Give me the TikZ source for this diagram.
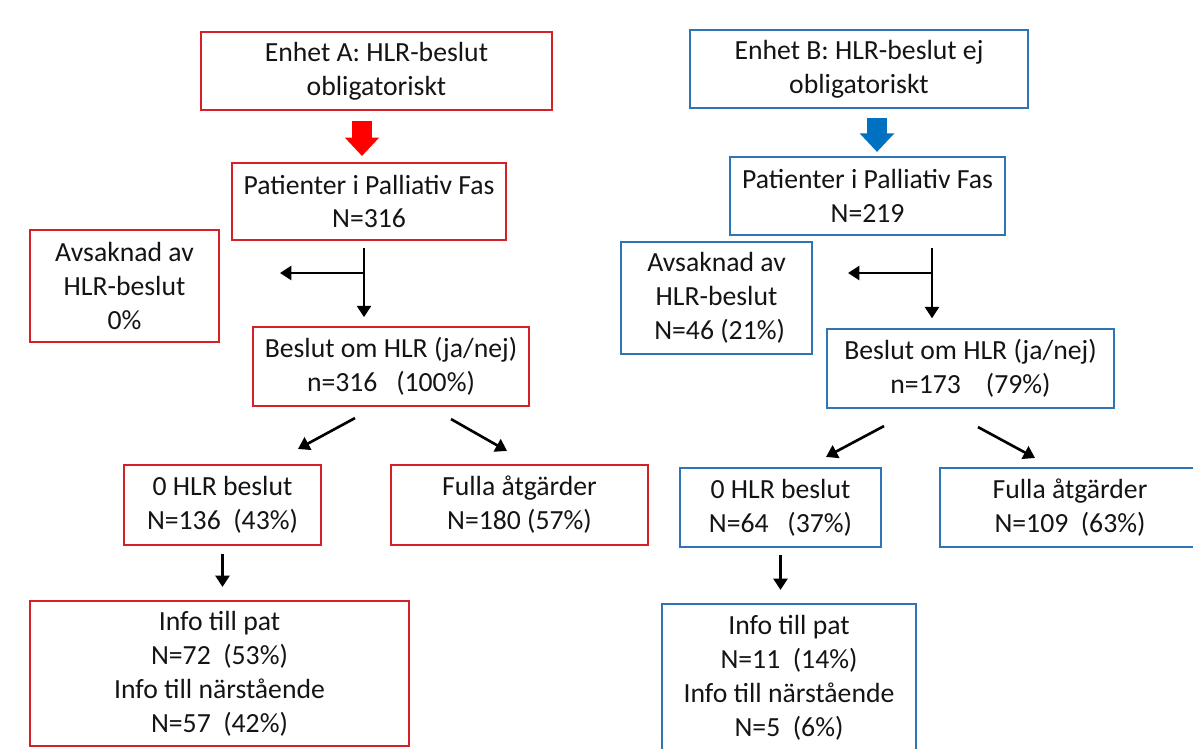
\documentclass[tikz,border=0pt]{standalone}
\usepackage{fontspec}
\setmainfont{Carlito}
\usetikzlibrary{arrows.meta,calc}
\definecolor{redcol}{RGB}{214,32,40}
\definecolor{bluecol}{RGB}{46,117,182}
\definecolor{redarrow}{RGB}{255,0,0}
\definecolor{bluearrow}{RGB}{0,112,192}
\definecolor{txtcol}{RGB}{20,20,20}

\tikzset{
  box/.style 2 args={inner sep=0pt, align=center, line width=1.2pt,
    minimum width=#1*0.02cm, minimum height=#2*0.02cm},
  redbox/.style={draw=redcol},
  bluebox/.style={draw=bluecol},
  arr/.style={line width=1.5pt, -{Triangle[width=8pt,length=6.5pt]}},
  bigarr/.style={line width=11pt, #1, -{Triangle[width=19pt,length=10.5pt]}}
}

\begin{document}
\begin{tikzpicture}[x=0.02cm, y=-0.02cm, text=txtcol,
    every node/.style={font=\fontsize{15.76}{19.3}\selectfont}]
\useasboundingbox (0,0) rectangle (1193,748);

% Enhet A
\node[redbox, box={351}{78}] (A1) at (376.5,71) {Enhet A: HLR-beslut\\obligatoriskt};
\node[redbox, box={274}{77}] (A2) at (369,201.5) {Patienter i Palliativ Fas\\N=316};
\node[redbox, box={189}{112}] (A3) at (124.5,286) {Avsaknad av\\HLR-beslut\\0\%};
\node[redbox, box={276}{79}] (A4) at (391,366.5) {Beslut om HLR (ja/nej)\\n=316~~ (100\%)};
\node[redbox, box={197}{80}] (A5) at (222.5,505) {0 HLR beslut\\N=136~ (43\%)};
\node[redbox, box={257}{80}] (A6) at (519.5,505) {Fulla åtgärder\\N=180 (57\%)};
\node[redbox, box={379}{145}] (A7) at (219.5,673.5) {Info till pat\\N=72~ (53\%)\\Info till närstående\\N=57~ (42\%)};

% Enhet B
\node[bluebox, box={338}{78}] (B1) at (859,69) {Enhet B: HLR-beslut ej\\obligatoriskt};
\node[bluebox, box={275}{78}] (B2) at (867.5,196) {Patienter i Palliativ Fas\\N=219};
\node[bluebox, box={191}{112}] (B3) at (716.5,298) {Avsaknad av\\HLR-beslut\\~N=46 (21\%)};
\node[bluebox, box={287}{79}] (B4) at (970.5,368.5) {Beslut om HLR (ja/nej)\\n=173~~~ (79\%)};
\node[bluebox, box={201}{79}] (B5) at (780.5,507.5) {0 HLR beslut\\N=64~~ (37\%)};
\node[bluebox, box={260}{79}] (B6) at (1070,507.5) {Fulla åtgärder\\N=109~ (63\%)};
\node[bluebox, box={254}{148}] (B7) at (789,678) {Info till pat\\N=11~ (14\%)\\Info till närstående\\N=5~ (6\%)};

% block arrows
\coordinate (ra) at (362,0);
\coordinate (ba) at (877,0);
\draw[bigarr=redarrow, shorten <=5.5pt, shorten >=3.4pt] (A1.south -| ra) -- (A2.north -| ra);
\draw[bigarr=bluearrow, shorten <=5pt, shorten >=2.3pt] (B1.south -| ba) -- (B2.north -| ba);

% split arrows
\coordinate (ta) at (364,273);
\coordinate (la) at (280,273);
\coordinate (tb) at (932,273);
\coordinate (lb) at (848,273);
\draw[arr, shorten <=4pt, shorten >=5pt] (A2.south -| ta) -- (A4.north -| ta);
\draw[arr] (ta) -- (la);
\draw[arr, shorten <=7pt, shorten >=5.5pt] (B2.south -| tb) -- (B4.north -| tb);
\draw[arr] (tb) -- (lb);

% ja/nej arrows
\draw[arr] ($(A4.south)+(-36,11)$) -- ($(A5.north)+(75.5,-15)$);
\draw[arr] ($(A4.south)+(60,12)$) -- ($(A6.north)+(-12.5,-13)$);
\draw[arr] ($(B4.south)+(-86.5,17)$) -- ($(B5.north)+(45.5,-10)$);
\draw[arr] ($(B4.south)+(7.5,18)$) -- ($(B6.north)+(-35,-9)$);

% info arrows
\draw[arr, shorten <=4.5pt, shorten >=7.4pt] (A5.south) -- (A7.north -| A5.south);
\draw[arr, shorten <=4pt, shorten >=7.4pt] (B5.south) -- (B7.north -| B5.south);
\end{tikzpicture}
\end{document}
